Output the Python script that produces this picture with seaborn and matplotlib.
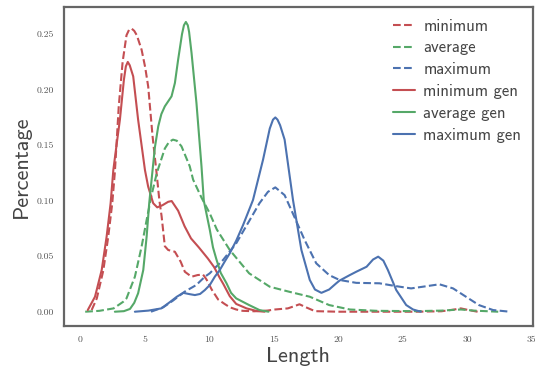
import pandas as pd
import matplotlib
matplotlib.use('Agg')
import matplotlib.pyplot as plt
import seaborn as sns

# curves (length -> density)
min_x = [0.9, 1.3, 1.8, 2.18, 2.5, 2.7, 3.0, 3.3, 3.6, 3.8, 4.0, 4.2, 4.4, 4.77, 5.05, 5.28,
         5.62, 5.93, 6.15, 6.32, 6.57, 6.83, 7.35, 7.8, 8.12, 8.64, 9.1, 9.53, 9.8, 10.2, 10.7,
         11.2, 11.6, 12.1, 12.6, 13.5, 14.5, 15.1, 16.1, 16.6, 17.0, 17.5, 18.2, 20, 22, 24, 26,
         28, 29.0, 29.5, 30.1, 30.8]
min_y = [0.0015, 0.012, 0.037, 0.067, 0.098, 0.126, 0.185, 0.225, 0.249, 0.254, 0.255, 0.253,
         0.249, 0.236, 0.22, 0.203, 0.158, 0.125, 0.10, 0.086, 0.059, 0.0556, 0.054, 0.045,
         0.036, 0.0315, 0.033, 0.0335, 0.029, 0.02, 0.011, 0.007, 0.004, 0.002, 0.0008, 0.0004,
         0.001, 0.002, 0.003, 0.005, 0.0067, 0.004, 0.0005, 0.0, 0.0, 0.0, 0.0, 0.0004, 0.002,
         0.003, 0.0015, 0.0]

avg_x = [0.4, 1.5, 2.6, 3.35, 3.6, 4.25, 4.77, 5.16, 5.54, 5.95, 6.57, 6.9, 7.2, 7.5, 7.86,
         8.5, 8.76, 9.4, 10.05, 10.6, 11.6, 13.1, 14.7, 16.2, 17.8, 19.3, 20.9, 23, 26, 28,
         29.5, 30.5, 32.4]
avg_y = [0.0, 0.0008, 0.003, 0.009, 0.012, 0.0315, 0.0586, 0.0826, 0.105, 0.125, 0.147, 0.153,
         0.155, 0.154, 0.149, 0.131, 0.119, 0.103, 0.0886, 0.074, 0.0556, 0.0346, 0.0225,
         0.018, 0.0135, 0.006, 0.002, 0.0008, 0.0005, 0.001, 0.002, 0.001, 0.0]

max_x = [5.5, 6.45, 7.2, 8.1, 9.0, 9.67, 10.05, 10.5, 11.08, 12.1, 13.15, 13.9, 14.56, 15.13,
         15.85, 16.6, 17.4, 18.3, 19.3, 20.1, 20.9, 21.4, 23.2, 24.5, 25.65, 26.55, 27.84, 28.9,
         29.9, 30.9, 32.0, 33.3]
max_y = [0.0, 0.004, 0.01, 0.018, 0.024, 0.0315, 0.0346, 0.04, 0.0466, 0.0616, 0.0826, 0.0977,
         0.108, 0.112, 0.105, 0.0856, 0.0646, 0.0436, 0.033, 0.0286, 0.027, 0.026, 0.0256,
         0.023, 0.021, 0.0225, 0.0247, 0.021, 0.0135, 0.006, 0.0015, 0.0]

min_gen_x = [0.6, 1.16, 1.68, 2.06, 2.37, 2.58, 2.85, 3.09, 3.4, 3.55, 3.7, 3.85, 4.12, 4.5,
             5.03, 5.28, 5.67, 5.98, 6.4, 6.83, 7.1, 7.6, 8.1, 8.6, 9.2, 9.9, 10.4, 10.8, 11.1,
             11.6, 12.1, 12.9, 13.7, 14.3]
min_gen_y = [0.0015, 0.0135, 0.0376, 0.0676, 0.0977, 0.1276, 0.152, 0.173, 0.209, 0.221, 0.225,
             0.222, 0.212, 0.173, 0.1276, 0.1126, 0.0977, 0.094, 0.096, 0.099, 0.0997, 0.091,
             0.077, 0.066, 0.058, 0.048, 0.04, 0.031, 0.025, 0.014, 0.007, 0.003, 0.0006, 0.0]

avg_gen_x = [2.7, 3.4, 3.87, 4.2, 4.5, 4.9, 5.16, 5.36, 5.62, 5.8, 6.06, 6.3, 6.57, 7.09, 7.35,
             7.6, 7.9, 8.05, 8.2, 8.35, 8.45, 8.64, 9.02, 9.41, 9.59, 10.05, 10.3, 10.57, 10.9,
             11.35, 11.7, 12.1, 12.6, 13.1, 13.9, 14.6]
avg_gen_y = [0.0, 0.0005, 0.0025, 0.008, 0.0166, 0.0376, 0.0676, 0.0977, 0.1276, 0.148, 0.167,
             0.178, 0.185, 0.194, 0.206, 0.227, 0.25, 0.258, 0.261, 0.258, 0.252, 0.233, 0.188,
             0.131, 0.10, 0.074, 0.058, 0.047, 0.035, 0.0256, 0.017, 0.012, 0.009, 0.006,
             0.0015, 0.0]

max_gen_x = [4.25, 5.3, 6.3, 7.0, 7.5, 8.0, 8.5, 8.9, 9.3, 9.67, 10.05, 10.44, 10.83, 11.2, 11.6,
             12.1, 12.63, 13.4, 14.18, 14.7, 14.95, 15.13, 15.3, 15.5, 15.85, 16.5, 17.15, 17.8,
             18.2, 18.7, 19.3, 19.85, 20.1, 20.9, 21.4, 22.2, 22.7, 23.1, 23.5, 23.85, 24.5,
             25.27, 25.8, 26.4]
max_gen_y = [0.0, 0.001, 0.003, 0.009, 0.0135, 0.017, 0.0158, 0.015, 0.016, 0.0195, 0.024,
             0.0315, 0.0376, 0.045, 0.0526, 0.064, 0.078, 0.1006, 0.137, 0.165, 0.173, 0.175,
             0.173, 0.168, 0.155, 0.1006, 0.0556, 0.0286, 0.02, 0.017, 0.02, 0.0256, 0.028,
             0.033, 0.036, 0.0405, 0.047, 0.0496, 0.046, 0.0376, 0.0195, 0.006, 0.002, 0.0]

red, green, blue = '#C44E52', '#55A868', '#4C72B0'

sns.set_style('white')
plt.rcParams['font.family'] = ['cmss10', 'DejaVu Sans']
plt.rcParams['axes.formatter.use_mathtext'] = True

fig = plt.figure(figsize=(5.35, 3.73), dpi=100)
ax = fig.add_axes([0.1187, 0.1268, 0.877, 0.8545])

series = [
    (min_x, min_y, red, '--', 'minimum'),
    (avg_x, avg_y, green, '--', 'average'),
    (max_x, max_y, blue, '--', 'maximum'),
    (min_gen_x, min_gen_y, red, '-', 'minimum gen'),
    (avg_gen_x, avg_gen_y, green, '-', 'average gen'),
    (max_gen_x, max_gen_y, blue, '-', 'maximum gen'),
]
for xs, ys, c, ls, name in series:
    sns.lineplot(x=xs, y=ys, color=c, linestyle=ls, linewidth=1.5, label=name, ax=ax)

ax.set_xlim(-1.28, 35.07)
ax.set_ylim(-0.0126, 0.2745)
ax.set_xticks([0, 5, 10, 15, 20, 25, 30, 35])
ax.set_xticklabels(['0', '5', '10', '15', '20', '25', '30', '35'])
ax.set_yticks([0.0, 0.05, 0.10, 0.15, 0.20, 0.25])
ax.set_yticklabels(['0.00', '0.05', '0.10', '0.15', '0.20', '0.25'])
ax.tick_params(axis='both', length=0, pad=7, labelsize=7, labelcolor='#555555')
for lbl in ax.get_xticklabels() + ax.get_yticklabels():
    lbl.set_fontfamily('cmr10')

ax.set_xlabel('Length', fontsize=16, color='#444444', labelpad=2)
ax.set_ylabel('Percentage', fontsize=16, color='#444444', labelpad=4)

for sp in ax.spines.values():
    sp.set_color('#666666')
    sp.set_linewidth(1.6)

leg = ax.legend(loc='upper right', frameon=False, fontsize=12, handlelength=1.3,
                handletextpad=0.5, labelspacing=0.41, borderaxespad=0.3)
for t in leg.get_texts():
    t.set_color('#444444')

fig.savefig('out.png', dpi=100)
